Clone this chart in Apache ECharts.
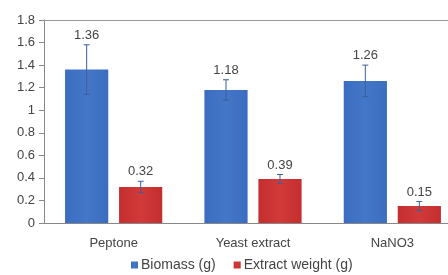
<!DOCTYPE html>
<html>
<head>
<meta charset="utf-8">
<script src="https://cdn.jsdelivr.net/npm/echarts@6/dist/echarts.min.js"></script>
<style>
  html, body { margin: 0; padding: 0; background: #fff; }
  #chart { width: 448px; height: 275px; }
</style>
</head>
<body>
<div id="chart"></div>
<script>
// 数据
const categories = ['Peptone', 'Yeast extract', 'NaNO3'];
const biomass = [1.36, 1.18, 1.26];
const biomassErr = [0.22, 0.09, 0.14];
const extractWeight = [0.32, 0.39, 0.15];
const extractErr = [0.05, 0.04, 0.04];
const yTicks = [0, 0.2, 0.4, 0.6, 0.8, 1, 1.2, 1.4, 1.6, 1.8];

const textColor = '#444';
const errColor = '#3a5f9c';

// 误差线 + 数值标签
function errorSeries(values, errs, barIndex) {
    return {
        type: 'custom',
        silent: true,
        z: 5,
        data: values.map((v, i) => [i, v, errs[i]]),
        renderItem: function (params, api) {
            let idx = api.value(0);
            let val = api.value(1);
            let err = api.value(2);
            let base = api.coord([idx, val]);
            let size = api.size([1, 0]);
            let catW = size[0];
            // 柱子中心偏移
            let barW = catW * 0.31;
            let gap = barW * 0.25;
            let off = (barW + gap) / 2;
            let x = base[0] + (barIndex === 0 ? -off : off);
            let top = api.coord([idx, val + err])[1];
            let bot = api.coord([idx, val - err])[1];
            let cap = 3;
            let style = { stroke: errColor, lineWidth: 1 };
            return {
                type: 'group',
                children: [
                    { type: 'line', shape: { x1: x, y1: top, x2: x, y2: bot }, style: style },
                    { type: 'line', shape: { x1: x - cap, y1: top, x2: x + cap, y2: top }, style: style },
                    { type: 'line', shape: { x1: x - cap, y1: bot, x2: x + cap, y2: bot }, style: style },
                    {
                        type: 'text',
                        style: {
                            x: x, y: top - 3,
                            text: val.toFixed(2),
                            fill: textColor,
                            font: '13px Arial, "Liberation Sans", sans-serif',
                            align: 'center',
                            verticalAlign: 'bottom'
                        }
                    }
                ]
            };
        }
    };
}

const chart = echarts.init(document.getElementById('chart'));

const option = {
    animation: false,
    textStyle: { fontFamily: 'Arial, "Liberation Sans", sans-serif' },
    grid: { left: 44, top: 20, right: -14, height: 203, containLabel: false, outerBoundsMode: 'none' },
    legend: {
        bottom: -2,
        left: 126,
        itemWidth: 7,
        itemHeight: 7,
        itemGap: 18,
        icon: 'rect',
        textStyle: { color: textColor, fontSize: 14, padding: [0, 0, 0, -2] },
        data: ['Biomass (g)', 'Extract weight (g)']
    },
    xAxis: [{
        type: 'category',
        data: categories,
        axisLine: { lineStyle: { color: '#888' } },
        axisTick: { show: false },
        axisLabel: { color: textColor, fontSize: 13, margin: 14 }
    }, {
        type: 'category',
        position: 'top',
        data: categories,
        axisLine: { lineStyle: { color: '#999' } },
        axisTick: { show: false },
        axisLabel: { show: false }
    }],
    yAxis: {
        type: 'value',
        min: 0,
        max: 1.8,
        interval: 0.2,
        axisLine: { show: true, lineStyle: { color: '#888' } },
        axisTick: { show: true, inside: false, length: 5, lineStyle: { color: '#888' } },
        splitLine: { show: false },
        axisLabel: {
            color: textColor,
            fontSize: 13,
            margin: 9,
            formatter: function (v) {
                let t = yTicks.find(x => Math.abs(x - v) < 1e-6);
                return t === undefined ? '' : String(t);
            }
        }
    },
    series: [{
        name: 'Biomass (g)',
        type: 'bar',
        data: biomass,
        barWidth: '31%',
        barGap: '25%',
        itemStyle: {
            color: {
                type: 'linear', x: 0, y: 0, x2: 1, y2: 0,
                colorStops: [
                    { offset: 0, color: '#3a6cc0' },
                    { offset: 0.5, color: '#4577c8' },
                    { offset: 1, color: '#3a6cc0' }
                ]
            }
        }
    }, {
        name: 'Extract weight (g)',
        type: 'bar',
        data: extractWeight,
        barWidth: '31%',
        itemStyle: {
            color: {
                type: 'linear', x: 0, y: 0, x2: 1, y2: 0,
                colorStops: [
                    { offset: 0, color: '#c42e2e' },
                    { offset: 0.5, color: '#d23a3a' },
                    { offset: 1, color: '#c42e2e' }
                ]
            }
        }
    },
    errorSeries(biomass, biomassErr, 0),
    errorSeries(extractWeight, extractErr, 1)
    ]
};

chart.setOption(option);
</script>
</body>
</html>
